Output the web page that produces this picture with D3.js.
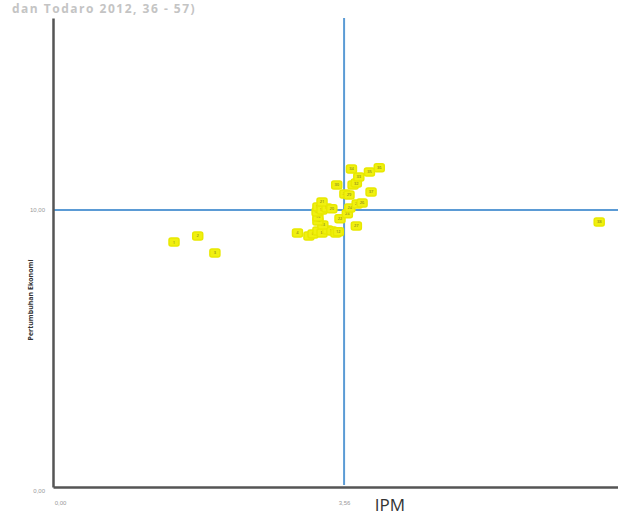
<!DOCTYPE html>
<html>
<head>
<meta charset="utf-8">
<script src="https://cdn.jsdelivr.net/npm/d3@7"></script>
<style>
  body { margin: 0; background: #fff; }
  svg { display: block; font-family: "Open Sans", "Liberation Sans", sans-serif; }
</style>
</head>
<body>
<figure id="quadrant" style="margin:0"></figure>
<script>
// scatter of IPM vs Pertumbuhan Ekonomi, split into quadrants at the means
const ipm = [1.48, 1.77, 1.98, 2.99, 3.13, 3.18, 3.24, 3.29, 3.36, 3.41, 3.46, 3.49,
  3.30, 3.24, 3.24, 3.23, 3.24, 3.29, 3.35, 3.41, 3.29, 3.51, 3.60, 3.63, 3.72, 3.78,
  3.71, 3.57, 3.62, 3.47, 3.67, 3.71, 3.74, 3.65, 3.87, 3.99, 3.89, 6.68];
const growth = [8.84, 9.06, 8.45, 9.17, 9.06, 9.13, 9.24, 9.17, 9.28, 9.24, 9.17, 9.21,
  9.46, 9.60, 9.75, 9.93, 10.11, 10.00, 10.07, 10.04, 10.29, 9.68, 9.86, 10.07, 10.22, 10.25,
  9.42, 10.58, 10.54, 10.90, 10.90, 10.97, 11.19, 11.48, 11.37, 11.52, 10.65, 9.57];
const meanIpm = 3.56;
const meanGrowth = 10.00;
const xTickLabels = ["0,00", "3,56"];
const yTickLabels = ["0,00", "10,00"];

const W = 618, H = 516;
const mLeft = 53, mBottom = 487, mTop = 18, mRight = 618;

const svg = d3.select("figure#quadrant").append("svg")
  .attr("width", W).attr("height", H);

const x = d3.scaleLinear().domain([0, 6.91]).range([mLeft, mRight]);
const y = d3.scaleLinear().domain([0, 16.93]).range([mBottom, mTop]);

// faint caption line left over from the page above
svg.append("text")
  .attr("x", 12).attr("y", 13)
  .text("dan Todaro 2012, 36 - 57)")
  .attr("fill", "#c4c4c4")
  .style("font-size", "12px")
  .style("font-weight", "bold")
  .style("letter-spacing", "1.5px");

// quadrant lines at the means
svg.append("line")
  .attr("x1", x(0)).attr("x2", mRight)
  .attr("y1", y(meanGrowth)).attr("y2", y(meanGrowth))
  .attr("stroke", "#5b9bd5").attr("stroke-width", 2);
svg.append("line")
  .attr("x1", x(meanIpm)).attr("x2", x(meanIpm))
  .attr("y1", mTop).attr("y2", mBottom - 2)
  .attr("stroke", "#5b9bd5").attr("stroke-width", 2);

// axes
const xAxis = d3.axisBottom(x)
  .tickValues([0, meanIpm])
  .tickFormat((d, i) => xTickLabels[i])
  .tickSize(0).tickPadding(14);
const gx = svg.append("g").attr("transform", `translate(0,${mBottom})`).call(xAxis);
gx.select(".domain").attr("stroke", "#555").attr("stroke-width", 2.5);
gx.selectAll("text").attr("fill", "#999").style("font-size", "6px")
  .attr("dx", (d, i) => i === 0 ? 7 : 0);

const yAxis = d3.axisLeft(y)
  .tickValues([0, meanGrowth])
  .tickFormat((d, i) => yTickLabels[i])
  .tickSize(0).tickPadding(8);
const gy = svg.append("g").attr("transform", `translate(${mLeft},0)`).call(yAxis);
gy.select(".domain").attr("stroke", "#555").attr("stroke-width", 2.5);
gy.selectAll("text").attr("fill", "#999").style("font-size", "6px")
  .attr("dy", (d, i) => i === 0 ? "0.9em" : "0.32em");

// axis titles
svg.append("text")
  .attr("transform", "translate(33,300) rotate(-90)")
  .attr("text-anchor", "middle")
  .text("Pertumbuhan Ekonomi")
  .attr("fill", "#333")
  .style("font-size", "7px")
  .style("font-weight", "bold");
svg.append("text")
  .attr("x", 390).attr("y", 511)
  .attr("text-anchor", "middle")
  .text("IPM")
  .attr("fill", "#333")
  .style("font-size", "17px");

// points
const pts = ipm.map((v, i) => ({ x: v, y: growth[i], id: i + 1 }));
const g = svg.append("g").selectAll("g.pt").data(pts).enter()
  .append("g").attr("transform", (d) => `translate(${x(d.x)},${y(d.y)})`);
g.append("rect")
  .attr("x", -5).attr("y", -4).attr("width", 10).attr("height", 8)
  .attr("rx", 2)
  .attr("fill", "#f0f010")
  .attr("stroke", "#e8e800").attr("stroke-width", 1.5);
g.append("text")
  .attr("text-anchor", "middle").attr("dy", "0.35em")
  .text((d) => d.id)
  .attr("fill", "#6a6a20")
  .style("font-size", "4px");
</script>
</body>
</html>
